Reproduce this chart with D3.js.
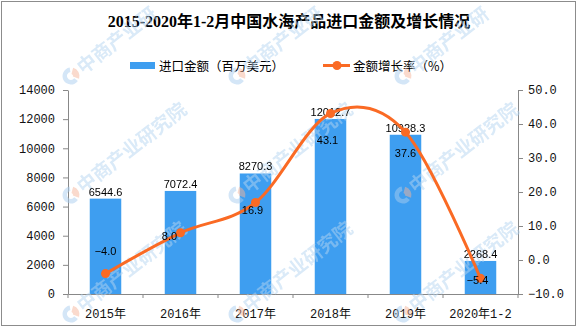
<!DOCTYPE html>
<html>
<head>
<meta charset="utf-8">
<script src="https://cdn.jsdelivr.net/npm/d3@7"></script>
<style>
  html, body { margin: 0; padding: 0; background: white; }
  svg { display: block; }
</style>
</head>
<body>
<div id="container"></div>
<script>
// chart values
const categories = ['2015年', '2016年', '2017年', '2018年', '2019年', '2020年1-2'];
const importValues = [6544.6, 7072.4, 8270.3, 12012.7, 10928.3, 2268.4];
const growthRates = [-4.0, 8.0, 16.9, 43.1, 37.6, -5.4];
const leftTicks = [0, 2000, 4000, 6000, 8000, 10000, 12000, 14000];
const rightTicks = [-10, 0, 10, 20, 30, 40, 50];

let w = 577,
    h = 327;

let barColor = '#3e9ef0',
    lineColor = '#fa6a24',
    axisColor = '#888888',
    cjk = '"Noto Sans CJK SC", sans-serif',
    mono = '"Liberation Mono", "Noto Sans CJK SC", monospace',
    sans = '"Liberation Sans", sans-serif';

let viz = d3.select('#container')
    .append('svg')
      .attr('width', w)
      .attr('height', h)
      .style('background', 'white')
;

let x = d3.scaleBand().domain(categories).range([68, 518]);
let yL = d3.scaleLinear().domain([0, 14000]).range([294, 90]);
let yR = d3.scaleLinear().domain([-10, 50]).range([294, 90]);

// faint company stamp repeated over the plot, one glyph at a time
// so that glyphs falling off the frame are simply skipped
function stamps(layer) {
    let word = '中商产业研究院';
    let ang = -38 * Math.PI / 180,
        ca = Math.cos(ang), sa = Math.sin(ang);
    let arcBlue = d3.arc().innerRadius(4).outerRadius(8.5).startAngle(Math.PI * 0.7).endAngle(Math.PI * 1.95);
    let arcOrange = d3.arc().innerRadius(2).outerRadius(8.5).startAngle(Math.PI * 0.08).endAngle(Math.PI * 0.6);
    d3.range(-95, 600, 166).forEach(mx => {
        d3.range(76, 330, 119).forEach(my => {
            if (mx > 0 && mx < w - 8 && my < h - 8) {
                let g = layer.append('g').attr('transform', 'translate(' + mx + ',' + my + ')');
                g.append('path').attr('d', arcBlue()).attr('fill', '#a9cdef');
                g.append('path').attr('d', arcOrange()).attr('fill', '#f4b49a');
            }
            word.split('').forEach((ch, k) => {
                let lx = 20 + k * 19, ly = 0;
                let px = mx + lx * ca - ly * sa,
                    py = my + lx * sa + ly * ca;
                if (px < 13 || px > w - 13 || py < 13 || py > h - 13) return;
                layer.append('text')
                    .attr('transform', 'translate(' + px + ',' + py + ') rotate(-38)')
                    .attr('text-anchor', 'middle')
                    .attr('dy', '0.36em')
                    .attr('font-family', cjk)
                    .attr('font-weight', 'bold')
                    .attr('font-size', 19)
                    .attr('fill', '#b4d4f0')
                    .text(ch);
            });
        });
    });
}

function main() {
    // frame
    viz.append('rect')
        .attr('x', 1.5).attr('y', 1.5)
        .attr('width', 574).attr('height', 324)
        .attr('fill', 'none')
        .attr('stroke', '#8c8c8c');

    // title
    viz.append('text')
        .attr('x', 289).attr('y', 27)
        .attr('text-anchor', 'middle')
        .attr('font-family', '"Liberation Serif", "Noto Sans CJK SC", serif')
        .attr('font-weight', 'bold')
        .attr('font-size', 16)
        .text('2015-2020年1-2月中国水海产品进口金额及增长情况');

    // legend
    let legend = viz.append('g').attr('font-family', cjk).attr('font-size', 12.5);
    legend.append('rect')
        .attr('x', 130).attr('y', 62).attr('width', 25).attr('height', 7)
        .attr('fill', barColor);
    legend.append('text')
        .attr('x', 159).attr('y', 70.5)
        .text('进口金额（百万美元）');
    legend.append('line')
        .attr('x1', 323).attr('x2', 350).attr('y1', 65.5).attr('y2', 65.5)
        .attr('stroke', lineColor).attr('stroke-width', 3);
    legend.append('circle')
        .attr('cx', 337).attr('cy', 65.5).attr('r', 4.5)
        .attr('fill', lineColor);
    legend.append('text')
        .attr('x', 353).attr('y', 70.5)
        .text('金额增长率（%）');

    // left axis
    let axL = viz.append('g')
        .attr('transform', 'translate(' + 68 + ',0)')
        .call(d3.axisLeft(yL).tickValues(leftTicks).tickSize(5).tickSizeOuter(0).tickPadding(8).tickFormat(d3.format('d')));

    // right axis
    let axR = viz.append('g')
        .attr('transform', 'translate(' + 518 + ',0)')
        .call(d3.axisRight(yR).tickValues(rightTicks).tickSize(5).tickSizeOuter(0).tickPadding(5).tickFormat(d3.format('.1f')));

    // bottom axis, labels at band centres, separators on band edges
    let axB = viz.append('g')
        .attr('transform', 'translate(0,' + 294 + ')')
        .call(d3.axisBottom(x).tickSize(0).tickSizeOuter(0).tickPadding(15));
    axB.selectAll('.sep')
        .data(categories.map(c => x(c)).concat([x.range()[1]]))
        .enter().append('line')
          .attr('class', 'sep')
          .attr('x1', d => d).attr('x2', d => d)
          .attr('y1', 0).attr('y2', 4)
          .attr('stroke', axisColor);

    [axL, axR, axB].forEach(ax => {
        ax.attr('font-family', mono).attr('font-size', 12);
        ax.select('.domain').attr('stroke', axisColor);
        ax.selectAll('.tick line').attr('stroke', axisColor);
        ax.selectAll('.tick text').attr('fill', '#111');
    });

    // bars
    let bw = x.bandwidth() * 0.42;
    viz.append('g').selectAll('rect')
        .data(importValues)
        .enter().append('rect')
          .attr('x', (d, i) => x(categories[i]) + (x.bandwidth() - bw) / 2)
          .attr('y', d => yL(d))
          .attr('width', bw)
          .attr('height', d => yL(0) - yL(d))
          .attr('fill', barColor);

    stamps(viz.append('g').attr('opacity', 0.5));

    // bar value labels
    viz.append('g')
        .attr('font-family', sans).attr('font-size', 11)
        .selectAll('text')
        .data(importValues)
        .enter().append('text')
          .attr('x', (d, i) => x(categories[i]) + x.bandwidth() / 2)
          .attr('y', d => yL(d) - 3)
          .attr('text-anchor', 'middle')
          .text(d => d3.format('.1f')(d));

    // growth line
    let cx = (d, i) => x(categories[i]) + x.bandwidth() / 2;
    let line = d3.line()
        .x(cx)
        .y(d => yR(d))
        .curve(d3.curveCardinal.tension(0));
    viz.append('path')
        .datum(growthRates)
        .attr('d', line)
        .attr('fill', 'none')
        .attr('stroke', lineColor)
        .attr('stroke-width', 3);
    viz.append('g').selectAll('circle')
        .data(growthRates)
        .enter().append('circle')
          .attr('cx', cx)
          .attr('cy', d => yR(d))
          .attr('r', 4.5)
          .attr('fill', lineColor);

    // growth labels, nudged off the line
    let nudge = [[0, -23], [-11, 3], [-3, 7], [-3, 27], [0, 21], [-3, 2]];
    viz.append('g')
        .attr('font-family', sans).attr('font-size', 11)
        .selectAll('text')
        .data(growthRates)
        .enter().append('text')
          .attr('x', (d, i) => cx(d, i) + nudge[i][0])
          .attr('y', (d, i) => yR(d) + nudge[i][1] + 4)
          .attr('text-anchor', 'middle')
          .text(d => d3.format('.1f')(d));
}

main();
</script>
</body>
</html>
